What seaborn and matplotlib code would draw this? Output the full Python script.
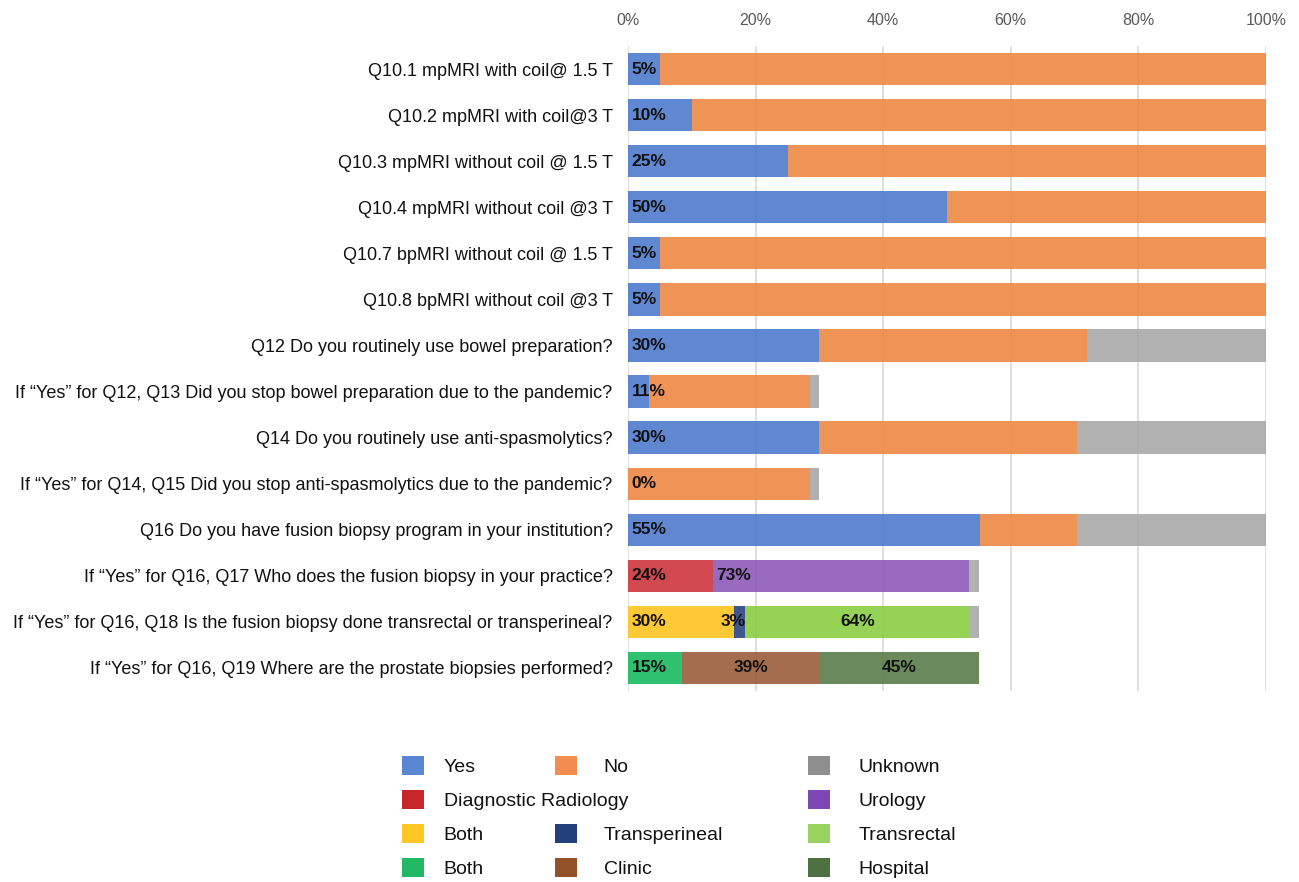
import numpy as np
import pandas as pd
import matplotlib
matplotlib.use("Agg")
import matplotlib.pyplot as plt
import seaborn as sns
import seaborn.objects as so
from matplotlib.patches import Patch

# ---------------- data ----------------
questions = [
    "Q10.1 mpMRI with coil@ 1.5 T",
    "Q10.2 mpMRI with coil@3 T",
    "Q10.3 mpMRI without coil @ 1.5 T",
    "Q10.4 mpMRI without coil @3 T",
    "Q10.7 bpMRI without coil @ 1.5 T",
    "Q10.8 bpMRI without coil @3 T",
    "Q12 Do you routinely use bowel preparation?",
    "If \u201cYes\u201d for Q12, Q13 Did you stop bowel preparation due to the pandemic?",
    "Q14 Do you routinely use anti-spasmolytics?",
    "If \u201cYes\u201d for Q14, Q15 Did you stop anti-spasmolytics due to the pandemic?",
    "Q16 Do you have fusion biopsy program in your institution?",
    "If \u201cYes\u201d for Q16, Q17 Who does the fusion biopsy in your practice?",
    "If \u201cYes\u201d for Q16, Q18 Is the fusion biopsy done transrectal or transperineal?",
    "If \u201cYes\u201d for Q16, Q19 Where are the prostate biopsies performed?",
]

# share of all respondents (% of axis), one value per question
yes_vals        = [5, 10, 25, 50, 5, 5, 30, 3.3, 30, 0, 55.2, 0, 0, 0]
no_vals         = [95, 90, 75, 50, 95, 95, 42, 25.2, 40.4, 28.5, 15.2, 0, 0, 0]
diag_rad_vals   = [0, 0, 0, 0, 0, 0, 0, 0, 0, 0, 0, 13.3, 0, 0]
urology_vals    = [0, 0, 0, 0, 0, 0, 0, 0, 0, 0, 0, 40.1, 0, 0]
both_app_vals   = [0, 0, 0, 0, 0, 0, 0, 0, 0, 0, 0, 0, 16.6, 0]
transper_vals   = [0, 0, 0, 0, 0, 0, 0, 0, 0, 0, 0, 0, 1.8, 0]
transrect_vals  = [0, 0, 0, 0, 0, 0, 0, 0, 0, 0, 0, 0, 35.1, 0]
both_site_vals  = [0, 0, 0, 0, 0, 0, 0, 0, 0, 0, 0, 0, 0, 8.5]
clinic_vals     = [0, 0, 0, 0, 0, 0, 0, 0, 0, 0, 0, 0, 0, 21.5]
hospital_vals   = [0, 0, 0, 0, 0, 0, 0, 0, 0, 0, 0, 0, 0, 25.0]
unknown_vals    = [0, 0, 0, 0, 0, 0, 28, 1.5, 29.6, 1.5, 29.6, 1.6, 1.5, 0]

# data labels (percent within the sub-group asked)
yes_labels       = ["5%", "10%", "25%", "50%", "5%", "5%", "30%", "11%", "30%", "0%", "55%", "", "", ""]
diag_rad_labels  = [""] * 11 + ["24%", "", ""]
urology_labels   = [""] * 11 + ["73%", "", ""]
both_app_labels  = [""] * 12 + ["30%", ""]
transper_labels  = [""] * 12 + ["3%", ""]
transrect_labels = [""] * 12 + ["64%", ""]
both_site_labels = [""] * 13 + ["15%"]
clinic_labels    = [""] * 13 + ["39%"]
hospital_labels  = [""] * 13 + ["45%"]

categories = ["Yes", "No", "Diagnostic Radiology", "Urology", "Both (approach)",
              "Transperineal", "Transrectal", "Both (site)", "Clinic", "Hospital", "Unknown"]
legend_names = {"Both (approach)": "Both", "Both (site)": "Both"}
cat_values = {
    "Yes": yes_vals, "No": no_vals, "Diagnostic Radiology": diag_rad_vals,
    "Urology": urology_vals, "Both (approach)": both_app_vals,
    "Transperineal": transper_vals, "Transrectal": transrect_vals,
    "Both (site)": both_site_vals, "Clinic": clinic_vals,
    "Hospital": hospital_vals, "Unknown": unknown_vals,
}
cat_labels = {
    "Yes": yes_labels, "Diagnostic Radiology": diag_rad_labels,
    "Urology": urology_labels, "Both (approach)": both_app_labels,
    "Transperineal": transper_labels, "Transrectal": transrect_labels,
    "Both (site)": both_site_labels, "Clinic": clinic_labels,
    "Hospital": hospital_labels,
}
label_align = {"Transperineal": "end", "Transrectal": "center",
               "Clinic": "center", "Hospital": "center"}

colors = {
    "Yes": "#4A78CC", "No": "#EE8440", "Diagnostic Radiology": "#CB3036",
    "Urology": "#8A55B8", "Both (approach)": "#FFC21A", "Transperineal": "#23407D",
    "Transrectal": "#88CC3E", "Both (site)": "#12B95C", "Clinic": "#985A35",
    "Hospital": "#557A45", "Unknown": "#A6A6A6",
}
legend_colors = {
    "Yes": "#5B86D3", "No": "#F08D4F", "Unknown": "#8F8F8F",
    "Diagnostic Radiology": "#C7262A", "Urology": "#7E48B4",
    "Both (approach)": "#FFC624", "Transperineal": "#23407D",
    "Transrectal": "#99D35F", "Both (site)": "#23B864",
    "Clinic": "#935129", "Hospital": "#4E6F3F",
}

# ---------------- long table ----------------
rows = []
for qi, q in enumerate(questions):
    cum = 0.0
    for c in categories:
        v = cat_values[c][qi]
        lab = cat_labels.get(c, [""] * len(questions))[qi]
        rows.append(dict(question=q, qi=qi, category=c, value=v, start=cum,
                         end=cum + v, label=lab))
        cum += v
df = pd.DataFrame(rows)
bars = df[df["value"] > 0].copy()
bars["category"] = pd.Categorical(bars["category"], categories=categories, ordered=True)
bars = bars.sort_values(["qi", "category"])

# ---------------- plot ----------------
sns.set_theme(style="white")
plt.rcParams["font.family"] = ["Liberation Sans", "DejaVu Sans"]

W, H = 1299, 882
fig = plt.figure(figsize=(W / 100, H / 100), dpi=100)
ax_left, ax_right, ax_top, ax_bottom = 628, 1266, 46, 691
ax = fig.add_axes([ax_left / W, 1 - ax_bottom / H, (ax_right - ax_left) / W,
                   (ax_bottom - ax_top) / H])

theme = {**sns.axes_style("white"), "font.family": ["Liberation Sans", "DejaVu Sans"],
         "axes.grid": True, "grid.color": "#D9D9D9", "axes.axisbelow": True}
(
    so.Plot(bars, x="value", y="question", color="category")
    .add(so.Bar(width=0.7, alpha=0.88, edgewidth=0), so.Stack(), orient="y", legend=False)
    .scale(color=so.Nominal(values=colors, order=categories),
           y=so.Nominal(order=questions))
    .theme(theme)
    .on(ax)
    .plot()
)

ax.set_xlim(0, 100)
ax.set_ylim(len(questions) - 0.5, -0.5)
ax.set_xticks([0, 20, 40, 60, 80, 100])
ax.set_xticklabels([f"{t}%" for t in [0, 20, 40, 60, 80, 100]])
ax.xaxis.tick_top()
ax.set_xlabel("")
ax.set_ylabel("")
ax.grid(axis="x", color="#D9D9D9", linewidth=1.2)
ax.grid(axis="y", visible=False)
ax.set_axisbelow(True)
for s in ax.spines.values():
    s.set_visible(False)
ax.tick_params(axis="x", length=0, pad=13, labelsize=11.5, labelcolor="#595959")
ax.tick_params(axis="y", length=0, pad=11, labelsize=13, labelcolor="#111111")
ax.set_yticks(range(len(questions)))
ax.set_yticklabels(questions)

# data labels
for _, r in df[df["label"] != ""].iterrows():
    mode = label_align.get(r["category"], "base")
    if mode == "base":
        x, ha = r["start"] + 0.6, "left"
    elif mode == "end":
        x, ha = r["end"], "right"
    else:
        x, ha = (r["start"] + r["end"]) / 2, "center"
    ax.text(x, r["qi"], r["label"], ha=ha, va="center", fontsize=12.5,
            fontweight="bold", color="#111111")

# legend in three columns
legend_cols = [
    (["Yes", "Diagnostic Radiology", "Both (approach)", "Both (site)"], 402, 1.0),
    (["No", None, "Transperineal", "Clinic"], 555, 1.35),
    (["Unknown", "Urology", "Transrectal", "Hospital"], 808, 1.45),
]
for cats, xpx, pad in legend_cols:
    handles = []
    for c in cats:
        if c is None:
            handles.append(Patch(facecolor="none", edgecolor="none", label=" "))
        else:
            handles.append(Patch(facecolor=legend_colors[c], edgecolor="none",
                                 label=legend_names.get(c, c)))
    fig.legend(handles=handles, loc="upper left", bbox_to_anchor=(xpx / W, 1 - 756 / H),
               frameon=False, fontsize=14, handlelength=1.15, handleheight=1.1,
               handletextpad=pad, labelspacing=0.72, borderpad=0, borderaxespad=0,
               labelcolor="#111111")

fig.savefig("out.png", dpi=100)
